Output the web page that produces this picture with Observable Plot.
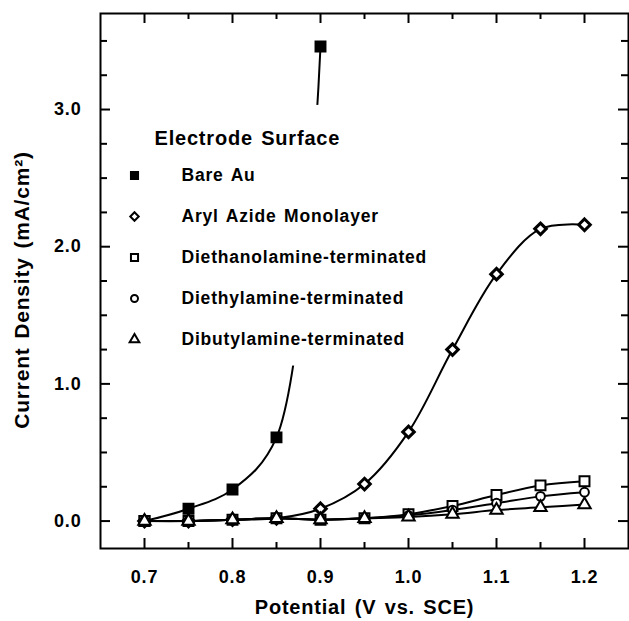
<!DOCTYPE html>
<html><head><meta charset="utf-8">
<script src="https://cdn.jsdelivr.net/npm/d3@7"></script>
<script src="https://cdn.jsdelivr.net/npm/@observablehq/plot@0.6"></script>
<style>
body{margin:0;background:#fff;}
#chart svg text{letter-spacing:0.8px;word-spacing:2px;}
</style></head><body><div id="chart"></div>
<script>
// ---- data ----
const potential = [0.70,0.75,0.80,0.85,0.90,0.95,1.00,1.05,1.10,1.15,1.20];
const bareAu = [0.00,0.09,0.23,0.61,3.46];
const arylAzide = [0.00,0.00,0.01,0.02,0.09,0.27,0.65,1.25,1.80,2.13,2.16];
const diethanolamine = [0.00,0.00,0.01,0.02,0.01,0.02,0.05,0.11,0.19,0.26,0.29];
const diethylamine = [0.00,0.00,0.01,0.02,0.01,0.02,0.04,0.08,0.13,0.18,0.21];
const dibutylamine = [0.00,0.00,0.01,0.02,0.01,0.02,0.03,0.05,0.08,0.10,0.12];

const seriesNames = ["Bare Au","Aryl Azide Monolayer","Diethanolamine-terminated","Diethylamine-terminated","Dibutylamine-terminated"];
const seriesValues = [bareAu, arylAzide, diethanolamine, diethylamine, dibutylamine];
const seriesSymbols = ["square","diamond2","square","circle","triangle"];
const seriesFilled = [true,false,false,false,false];
const seriesCurves = ["catmull-rom","catmull-rom","monotone-x","monotone-x","monotone-x"];

const xTicks = [0.7,0.8,0.9,1.0,1.1,1.2];
const xMinorTicks = [0.75,0.85,0.95,1.05,1.15];
const yTicks = [0,1,2,3];
const yMinorTicks = [0.25,0.5,0.75,1.25,1.5,1.75,2.25,2.5,2.75,3.25,3.5];
const xDomain = [0.65,1.25];
const yDomain = [-0.2,3.7];
// region of the Bare Au curve hidden in the reference (gap in the trace)
const bareAuGap = [{x1:0.86, x2:0.93, y1:1.13, y2:3.03}];

const xLabel = "Potential (V vs. SCE)";
const yLabel = "Current Density (mA/cm\u00B2)";
const legendTitle = "Electrode Surface";

// ---- build ----
const W = 629, H = 621, mL = 100, mR = 1, mT = 13, mB = 73;
const plotW = W - mL - mR, plotH = H - mT - mB;
const fmt = d3.format(".1f");

const rows = seriesNames.flatMap((name, i) =>
  seriesValues[i].map((v, j) => ({series: name, i, x: potential[j], y: v})));

const marks = [];
// curves
seriesNames.forEach((name, i) => {
  marks.push(Plot.line(rows.filter(d => d.i === i), {x: "x", y: "y", curve: seriesCurves[i], stroke: "black", strokeWidth: 2}));
});
marks.push(Plot.rect(bareAuGap, {x1: "x1", x2: "x2", y1: "y1", y2: "y2", fill: "white"}));
// markers
const markerR = {square: 5.6, circle: 4.4, triangle: 4.6, diamond2: 5.2};
const markerSW = {square: 2, circle: 2, triangle: 2, diamond2: 3};
seriesNames.forEach((name, i) => {
  const sym = seriesSymbols[i];
  marks.push(Plot.dot(rows.filter(d => d.i === i), {x: "x", y: "y", symbol: () => sym, r: markerR[sym],
    fill: seriesFilled[i] ? "black" : "white", stroke: "black", strokeWidth: markerSW[sym]}));
});
// frame and inward ticks
marks.push(Plot.frame({stroke: "black", strokeWidth: 2}));
marks.push(Plot.tickX(xTicks, {x: d => d, insetTop: plotH - 10, strokeWidth: 2}));
marks.push(Plot.tickX(xMinorTicks, {x: d => d, insetTop: plotH - 6, strokeWidth: 2}));
marks.push(Plot.tickX(xTicks, {x: d => d, insetBottom: plotH - 10, strokeWidth: 2}));
marks.push(Plot.tickX(xMinorTicks, {x: d => d, insetBottom: plotH - 6, strokeWidth: 2}));
marks.push(Plot.tickY(yTicks, {y: d => d, insetRight: plotW - 10, strokeWidth: 2}));
marks.push(Plot.tickY(yMinorTicks, {y: d => d, insetRight: plotW - 7, strokeWidth: 2}));
marks.push(Plot.tickY(yTicks, {y: d => d, insetLeft: plotW - 10, strokeWidth: 2}));
marks.push(Plot.tickY(yMinorTicks, {y: d => d, insetLeft: plotW - 7, strokeWidth: 2}));
// tick labels
marks.push(Plot.text(xTicks, {x: d => d, text: d => fmt(d), frameAnchor: "bottom", lineAnchor: "middle", dy: 29, fontSize: 18, fontWeight: "bold"}));
marks.push(Plot.text(yTicks, {y: d => d, text: d => fmt(d), frameAnchor: "left", textAnchor: "end", lineAnchor: "middle", dx: -19, fontSize: 18, fontWeight: "bold"}));
// axis titles
marks.push(Plot.text([xLabel], {text: d => d, frameAnchor: "bottom", textAnchor: "middle", lineAnchor: "middle", dy: 59, fontSize: 20, fontWeight: "bold"}));
marks.push(Plot.text([yLabel], {text: d => d, frameAnchor: "left", textAnchor: "middle", lineAnchor: "middle", dx: -78, dy: 9, rotate: -90, fontSize: 21, fontWeight: "bold"}));
// legend
marks.push(Plot.text([legendTitle], {text: d => d, frameAnchor: "top-left", dx: 54, dy: 125, textAnchor: "start", lineAnchor: "middle", fontSize: 20, fontWeight: "bold"}));
const legendY0 = 162, legendStep = 41;
const legendR = {square: 4, circle: 3.5, triangle: 3.6, diamond2: 3.8};
seriesNames.forEach((name, i) => {
  const sym = seriesSymbols[i];
  marks.push(Plot.dot([name], {frameAnchor: "top-left", dx: 34, dy: legendY0 + i * legendStep, symbol: () => sym, r: legendR[sym],
    fill: seriesFilled[i] ? "black" : "white", stroke: "black", strokeWidth: 2}));
  marks.push(Plot.text([name], {text: d => d, frameAnchor: "top-left", dx: 81, dy: legendY0 + i * legendStep, textAnchor: "start", lineAnchor: "middle", fontSize: 17.5, fontWeight: "bold"}));
});

const chart = Plot.plot({
  width: W, height: H,
  marginLeft: mL, marginRight: mR, marginTop: mT, marginBottom: mB,
  x: {domain: xDomain, axis: null},
  y: {domain: yDomain, axis: null},
  style: {fontFamily: "'Liberation Sans', Arial, Helvetica, sans-serif", background: "white", color: "black"},
  marks
});
document.getElementById("chart").appendChild(chart);
</script></body></html>
